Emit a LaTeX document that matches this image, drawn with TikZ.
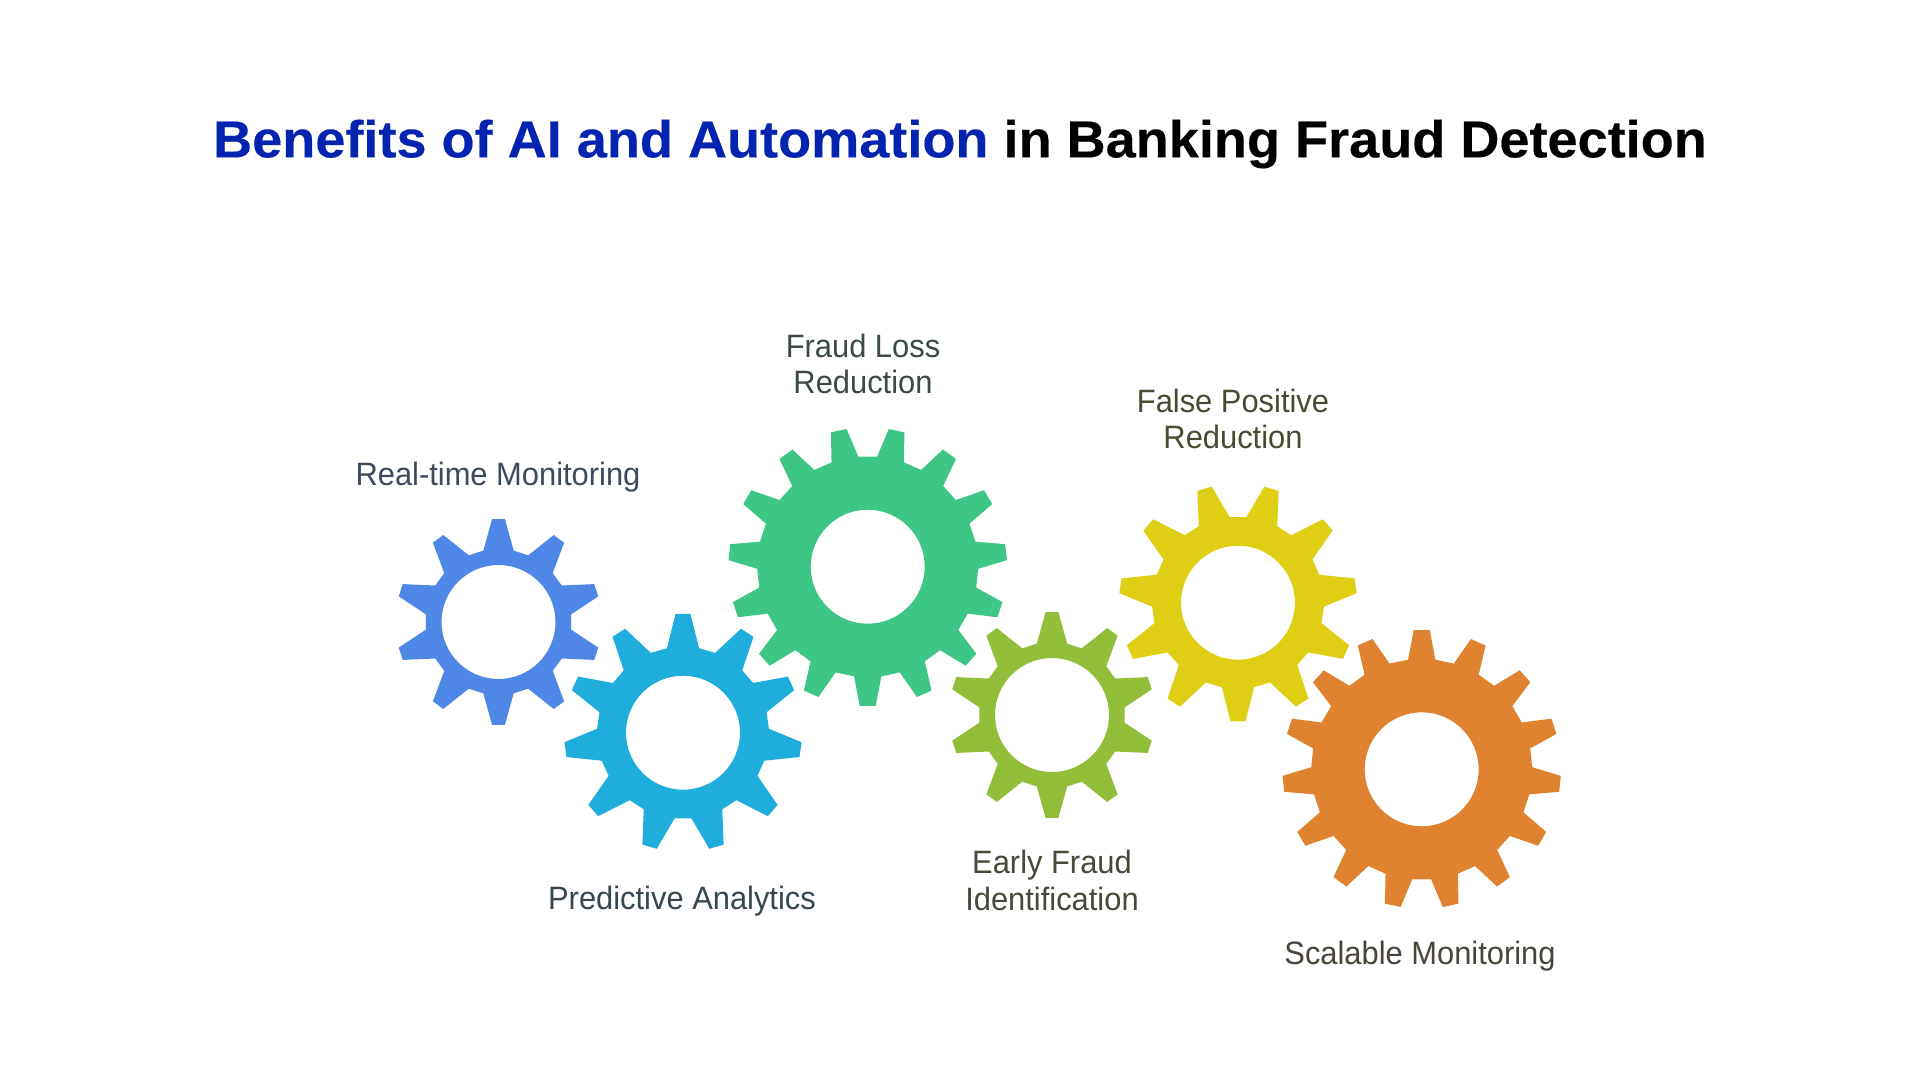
\documentclass[tikz,border=0pt]{standalone}
\usepackage{fontspec}
\setmainfont{Liberation Sans}[FakeStretch=0.955,BoldFeatures={FakeStretch=1.04,FakeBold=0.3}]
\usetikzlibrary{calc}
\definecolor{cblue}{HTML}{4F87E6}
\definecolor{cteal}{HTML}{1FADDC}
\definecolor{cgreen}{HTML}{3EC686}
\definecolor{colive}{HTML}{93BE3A}
\definecolor{cyellow}{HTML}{E0CE14}
\definecolor{corange}{HTML}{DF8331}
\definecolor{ctitle}{HTML}{0424B0}
\definecolor{tReal}{HTML}{3D4A5C}
\definecolor{tPred}{HTML}{36474F}
\definecolor{tLoss}{HTML}{3B4A44}
\definecolor{tEarly}{HTML}{474A38}
\definecolor{tFalse}{HTML}{4A4A32}
\definecolor{tScale}{HTML}{4A453A}
\tikzset{
  ttl/.style={inner sep=0pt,font=\fontsize{14.8}{18}\selectfont\bfseries},
  lbl/.style={inner sep=0pt,align=center,font=\fontsize{9.2}{10.4}\selectfont},
  hub/.style={even odd rule}
}
% #1 centre, #2 teeth, #3 first tooth angle, #4 root r, #5 tip r, #6 root half angle, #7 tip half angle, #8 colour
\newcommand{\gearwheel}[8]{
  \pgfmathsetmacro{\gstep}{360/#2}
  \fill[#8,hub,shift={(#1)}] (#3-#6:#4)
    \foreach \k in {1,...,#2} {
      -- ({#3+(\k-1)*\gstep-#6}:#4) -- ({#3+(\k-1)*\gstep-#7}:#5)
      -- ({#3+(\k-1)*\gstep+#7}:#5) -- ({#3+(\k-1)*\gstep+#6}:#4)
    } -- cycle (0,0) circle (57);
}
\begin{document}
\begin{tikzpicture}[x=0.1mm,y=0.1mm]
    \useasboundingbox (0,0) rectangle (1920,1080);
    \coordinate (gReal) at (498.5,458);
    \coordinate (gPred) at (683,347.3);
    \coordinate (gLoss) at (867.7,513.3);
    \coordinate (gEarly) at (1052,365);
    \coordinate (gFalse) at (1238,477.3);
    \coordinate (gScale) at (1421.7,310.7);
    \gearwheel{gReal}{10}{90}{73}{103}{12}{3.6}{cblue}
    \gearwheel{gPred}{11}{90}{86}{119}{10.8}{3.6}{cteal}
    \gearwheel{gLoss}{15}{-90}{110.5}{139.3}{7.1}{3.3}{cgreen}
    \gearwheel{gEarly}{10}{90}{73}{103}{12}{3.6}{colive}
    \gearwheel{gFalse}{11}{-90}{86}{119}{10.8}{3.6}{cyellow}
    \gearwheel{gScale}{15}{90}{110.5}{139.3}{7.1}{3.3}{corange}
    \node[ttl] (title) at (960,936) {\textcolor{ctitle}{Benefits of AI and Automation} in Banking Fraud Detection};
    \node[lbl,text=tReal] (lReal) at (498,603) {Real-time Monitoring};
    \node[lbl,text=tPred] (lPred) at (682,179) {Predictive Analytics};
    \node[lbl,text=tLoss] (lLoss) at (863,716) {Fraud Loss\\Reduction};
    \node[lbl,text=tEarly] (lEarly) at (1052,199.5) {Early Fraud\\Identification};
    \node[lbl,text=tFalse] (lFalse) at (1233,661) {False Positive\\Reduction};
    \node[lbl,text=tScale] (lScale) at (1420,124) {Scalable Monitoring};
  \end{tikzpicture}
\end{document}
